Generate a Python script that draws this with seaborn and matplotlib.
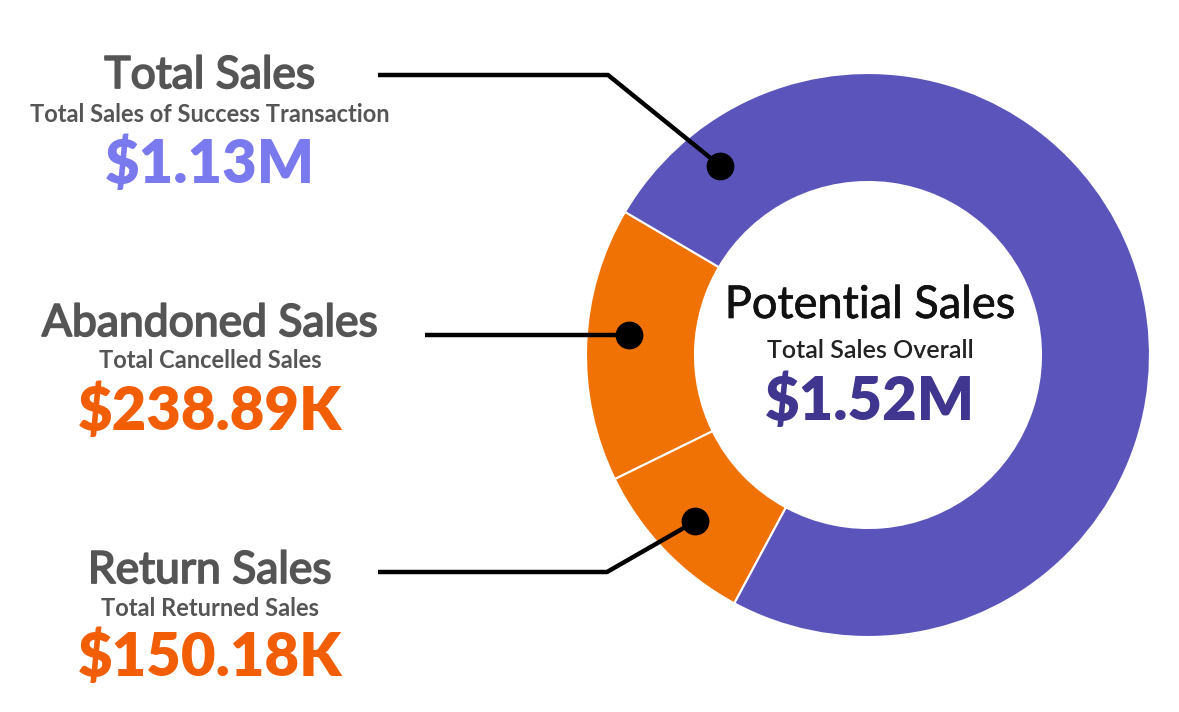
import numpy as np
import matplotlib
matplotlib.use("Agg")
import matplotlib.pyplot as plt
import matplotlib.patheffects as pe
import seaborn as sns

# donut slices, in drawing order (counter-clockwise from the start angle)
segments = ["Abandoned Sales", "Return Sales", "Total Sales"]
values_k = [238.89, 150.18, 1130.0]
seg_colors = ["#F07204", "#F07204", "#5B55BB"]

# side labels (top to bottom)
titles = ["Total Sales", "Abandoned Sales", "Return Sales"]
subtitles = ["Total Sales of Success Transaction", "Total Cancelled Sales", "Total Returned Sales"]
value_labels = ["$1.13M", "$238.89K", "$150.18K"]
value_colors = ["#7B79EE", "#F25E05", "#F25E05"]

center_title = "Potential Sales"
center_sub = "Total Sales Overall"
center_value = "$1.52M"

sns.set_theme(style="white")
plt.rcParams["font.family"] = ["Lato", "DejaVu Sans"]

W, H = 1179, 712
fig = plt.figure(figsize=(W / 100, H / 100), dpi=100)
ax = fig.add_axes([0, 0, 1, 1])

cx, cy = 868, H - 355
r_out, r_in = 282, 173
start = 149.5

wedges, _ = ax.pie(values_k, colors=seg_colors, startangle=start, radius=r_out,
                   center=(cx, cy), counterclock=True,
                   wedgeprops=dict(width=r_out - r_in, edgecolor="white", linewidth=1.5))
ax.set_xlim(0, W)
ax.set_ylim(0, H)
ax.set_aspect("equal")
ax.axis("off")

# where the connector dots sit on the ring
r_dot = 240
mid = {s: (w.theta1 + w.theta2) / 2 for s, w in zip(segments, wedges)}
dot_angle = {"Total Sales": wedges[2].theta2 - 21.5,
             "Abandoned Sales": mid["Abandoned Sales"] - 2.5,
             "Return Sales": mid["Return Sales"]}

# connector paths: start x, elbow (x, y) in top-down pixels
conn = {"Total Sales": (378, 608, 75),
        "Abandoned Sales": (425, None, None),
        "Return Sales": (378, 607, 572)}

for t in titles:
    a = np.deg2rad(dot_angle[t])
    dx, dy = cx + r_dot * np.cos(a), cy + r_dot * np.sin(a)
    x0, ex, ey = conn[t]
    if ex is None:
        xs, ys = [x0, dx], [dy, dy]
    else:
        xs, ys = [x0, ex, dx], [H - ey, H - ey, dy]
    ax.plot(xs, ys, color="black", lw=3.2, solid_capstyle="butt", zorder=4)
    ax.plot(dx, dy, "o", color="black", ms=19, zorder=5)

# side text, baselines in top-down pixels
lx = 210
base = [(88, 122, 183), (336, 368, 430), (583, 616, 676)]
thick = [pe.withStroke(linewidth=1.3, foreground="#555555")]
for t, s, v, c, (b1, b2, b3) in zip(titles, subtitles, value_labels, value_colors, base):
    ax.text(lx, H - b1, t, ha="center", va="baseline", fontsize=32, color="#555555",
            path_effects=thick)
    ax.text(lx, H - b2, s, ha="center", va="baseline", fontsize=17, color="#555555",
            fontweight="bold")
    ax.text(lx, H - b3, v, ha="center", va="baseline", fontsize=43, color=c,
            fontweight="heavy")

ax.text(870, H - 318, center_title, ha="center", va="baseline", fontsize=32.5, color="#111111",
        path_effects=[pe.withStroke(linewidth=0.5, foreground="#111111")])
ax.text(870, H - 358, center_sub, ha="center", va="baseline", fontsize=18, color="#222222",
        fontweight="semibold")
ax.text(870, H - 420, center_value, ha="center", va="baseline", fontsize=43, color="#40358F",
        fontweight="heavy")

fig.savefig("out.png", dpi=100, facecolor="white")
